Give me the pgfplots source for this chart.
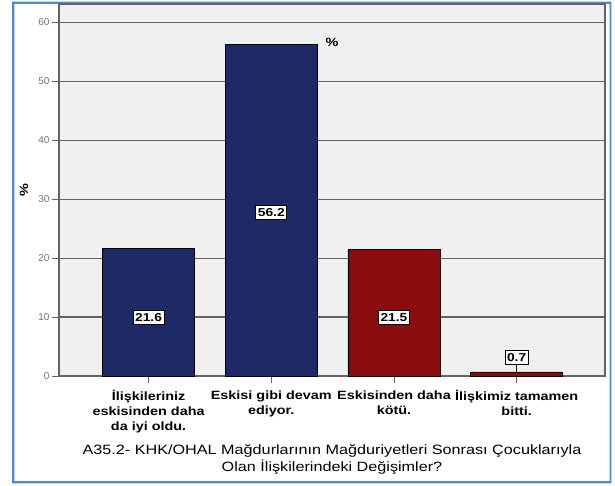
\documentclass[border=0pt]{standalone}
\usepackage{pgfplots}
\pgfplotsset{compat=1.18}
\usepackage{pgfplotstable}
\usepackage{fontspec}
\setmainfont{Liberation Sans}[FakeStretch=1.2]
\newfontfamily\plainfont{Liberation Sans}
\definecolor{navy}{RGB}{30,42,102}
\definecolor{dred}{RGB}{138,12,14}
\definecolor{bgc}{RGB}{240,240,240}
\definecolor{gridc}{RGB}{100,100,100}
\definecolor{framec}{RGB}{78,138,212}

\pgfplotstableread{
x y
0 21.6
1 56.2
}\blue
\pgfplotstableread{
x y
2 21.5
3 0.7
}\red
\pgfplotstableread{
x ly label
0 10.0 21.6
1 27.7 56.2
2 10.0 21.5
3 3.2 0.7
}\labels

\begin{document}
\begin{tikzpicture}[x=1pt,y=1pt]
\useasboundingbox (0,0) rectangle (615,485);
\fill[white] (0,0) rectangle (615,485);
\draw[framec!35, line width=3pt] (13,3) rectangle (610.5,482);
\draw[framec, line width=1.6pt] (13,3) rectangle (610.5,482);
\begin{axis}[
  at={(59pt,109pt)}, anchor=south west,
  scale only axis, width=546pt, height=372pt,
  xmin=-0.73, xmax=3.72, ymin=0, ymax=63.1,
  axis background/.style={fill=bgc},
  axis line style={draw=gridc, line width=1.1pt},
  ytick={0,10,...,60},
  ymajorgrids,
  grid style={draw=gridc, line width=1.1pt},
  xtick={0,1,2,3},
  xtick pos=bottom, ytick pos=left,
  xticklabels={{İlişkileriniz\\eskisinden daha\\da iyi oldu.},{Eskisi gibi devam\\ediyor.},{Eskisinden daha\\kötü.},{İlişkimiz tamamen\\bitti.}},
  tick align=outside,
  major tick length=7pt,
  tick style={draw=gridc, line width=0.9pt},
  /pgf/number format/assume math mode=true,
  yticklabel style={text=gray!90!black, font=\plainfont\fontsize{10}{10}\selectfont, xshift=1pt},
  xticklabel style={font=\bfseries\fontsize{12}{14.8}\selectfont, align=center, yshift=-4pt},
  xlabel={A35.2- KHK/OHAL Mağdurlarının Mağduriyetleri Sonrası Çocuklarıyla\\Olan İlişkilerindeki Değişimler?},
  xlabel style={font=\fontsize{13.5}{16.5}\selectfont, align=center, yshift=-5pt},
  ylabel={\%},
  ylabel style={font=\bfseries\fontsize{12}{13}\selectfont, at={(axis description cs:-0.064,0.5)}, anchor=center},
]
\addplot[ybar, bar width=0.75, bar shift=0pt, fill=navy, draw=black, line width=0.6pt] table[x=x,y=y] {\blue};
\addplot[ybar, bar width=0.75, bar shift=0pt, fill=dred, draw=black, line width=0.6pt] table[x=x,y=y] {\red};
\addplot[black, line width=0.6pt] coordinates {(3,0.7) (3,1.9)};
\addplot[draw=none, mark=none, point meta=explicit symbolic,
  nodes near coords, nodes near coords align=center,
  every node near coord/.style={anchor=center, fill=white, draw=black, line width=0.8pt,
    font=\bfseries\fontsize{11.5}{13}\selectfont, inner xsep=2pt, inner ysep=3pt}]
  table[x=x, y=ly, meta=label] {\labels};
\end{axis}
\node[font=\bfseries\fontsize{12}{13}\selectfont] at (332,443) {\%};
\end{tikzpicture}
\end{document}
